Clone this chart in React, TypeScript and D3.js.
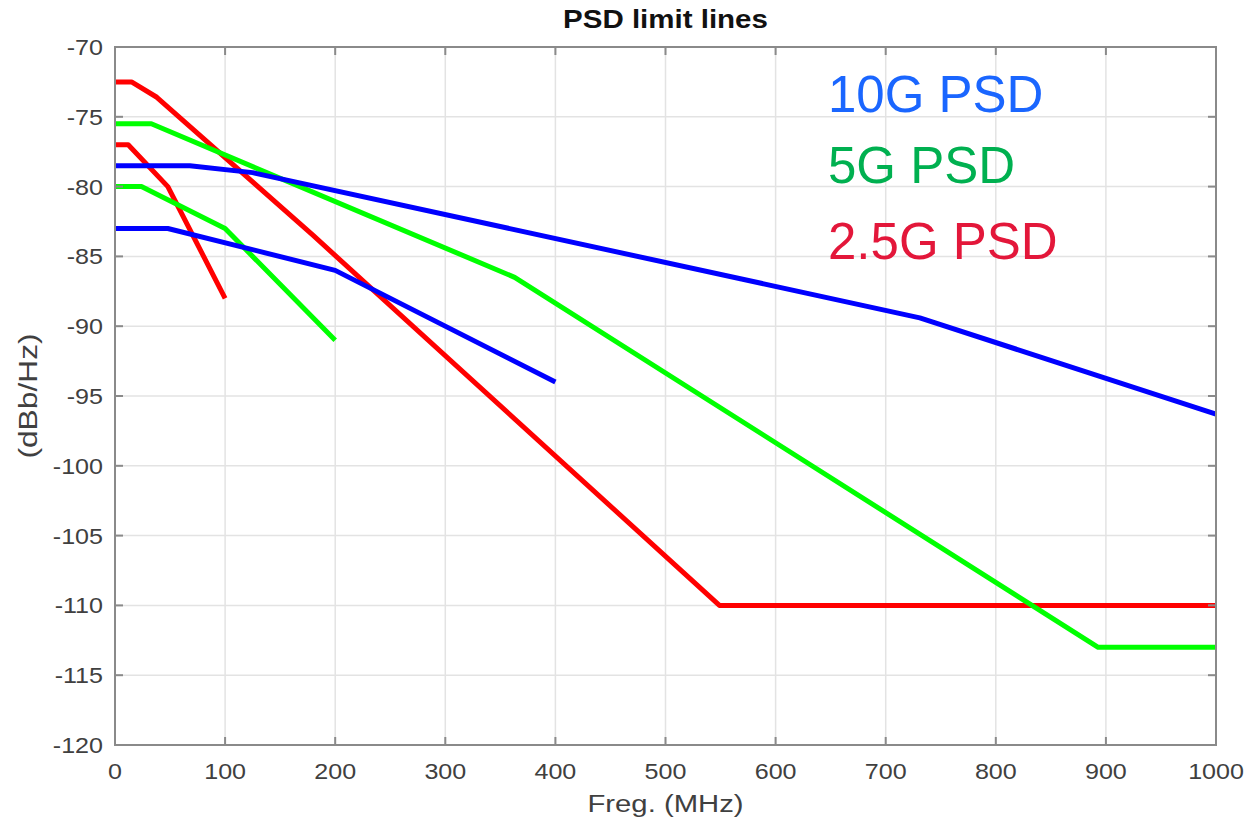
import * as d3 from "d3";
import { useEffect, useRef } from "react";

type Pt = [number, number];

// PSD limit lines, frequency in MHz vs dBm/Hz
const psd10gUpper: Pt[] = [[0, -78.5], [68, -78.5], [125, -79.0], [731, -89.4], [1000, -96.3]];
const psd10gLower: Pt[] = [[0, -83], [48, -83], [200, -86], [400, -94]];
const psd5gUpper: Pt[] = [[0, -75.5], [33, -75.5], [363, -86.5], [893, -113], [1000, -113]];
const psd5gLower: Pt[] = [[0, -80], [24, -80], [100, -83], [200, -91]];
const psd25gUpper: Pt[] = [[0, -72.5], [15, -72.5], [38, -73.6], [180, -83.5], [549, -110], [1000, -110]];
const psd25gLower: Pt[] = [[0, -77], [12, -77], [48, -80], [100, -88]];

const xTicks = [0, 100, 200, 300, 400, 500, 600, 700, 800, 900, 1000];
const yTicks = [-70, -75, -80, -85, -90, -95, -100, -105, -110, -115, -120];

const seriesList = [
  { data: psd25gUpper, color: "#ff0000" },
  { data: psd25gLower, color: "#ff0000" },
  { data: psd5gUpper, color: "#00ff00" },
  { data: psd5gLower, color: "#00ff00" },
  { data: psd10gUpper, color: "#0000ff" },
  { data: psd10gLower, color: "#0000ff" },
];

const legendLabels = ["10G PSD", "5G PSD", "2.5G PSD"];
const legendColors = ["#1a66ff", "#00b050", "#e3173a"];

const W = 1249;
const H = 824;
const margin = { left: 115, right: 33, top: 47, bottom: 79 };

export default function App() {
  const svgRef = useRef<SVGSVGElement>(null);

  useEffect(() => {
    const svg = d3.select(svgRef.current).html("");
    const font = "Liberation Sans, Arial, sans-serif";

    const x = d3.scaleLinear().domain([0, 1000]).range([margin.left, W - margin.right]);
    const y = d3.scaleLinear().domain([-120, -70]).range([H - margin.bottom, margin.top]);

    svg.append("rect").attr("width", W).attr("height", H).attr("fill", "#fff");

    // grid
    const grid = svg.append("g").attr("stroke", "#e3e3e3").attr("stroke-width", 1.5);
    xTicks.forEach(t => {
      grid.append("line").attr("x1", x(t)).attr("x2", x(t)).attr("y1", y(-70)).attr("y2", y(-120));
    });
    yTicks.forEach(t => {
      grid.append("line").attr("x1", x(0)).attr("x2", x(1000)).attr("y1", y(t)).attr("y2", y(t));
    });

    // lines
    const line = d3.line<Pt>().x(d => x(d[0])).y(d => y(d[1]));
    seriesList.forEach(s => {
      svg.append("path")
        .attr("d", line(s.data))
        .attr("fill", "none")
        .attr("stroke", s.color)
        .attr("stroke-width", 5)
        .attr("stroke-linejoin", "round");
    });

    // axes box with inward ticks
    const axisColor = "#8a8a8a";
    const tickLen = 8;
    const box = svg.append("g").attr("stroke", axisColor).attr("stroke-width", 2);
    box.append("rect")
      .attr("x", x(0)).attr("y", y(-70))
      .attr("width", x(1000) - x(0)).attr("height", y(-120) - y(-70))
      .attr("fill", "none");
    xTicks.forEach(t => {
      box.append("line").attr("x1", x(t)).attr("x2", x(t)).attr("y1", y(-120)).attr("y2", y(-120) - tickLen);
      box.append("line").attr("x1", x(t)).attr("x2", x(t)).attr("y1", y(-70)).attr("y2", y(-70) + tickLen);
    });
    yTicks.forEach(t => {
      box.append("line").attr("x1", x(0)).attr("x2", x(0) + tickLen).attr("y1", y(t)).attr("y2", y(t));
      box.append("line").attr("x1", x(1000)).attr("x2", x(1000) - tickLen).attr("y1", y(t)).attr("y2", y(t));
    });

    // tick labels (the source text is a bit stretched horizontally)
    svg.append("g").selectAll("text").data(xTicks).enter().append("text")
      .attr("transform", d => `translate(${x(d)},${y(-120) + 34}) scale(1.14,1)`)
      .attr("text-anchor", "middle")
      .attr("font-family", font).attr("font-size", 22).attr("fill", "#404040")
      .text(d => d);
    svg.append("g").selectAll("text").data(yTicks).enter().append("text")
      .attr("transform", d => `translate(${x(0) - 12},${y(d) + 8}) scale(1.14,1)`)
      .attr("text-anchor", "end")
      .attr("font-family", font).attr("font-size", 22).attr("fill", "#404040")
      .text(d => d);

    // axis titles
    svg.append("text")
      .attr("transform", `translate(${(x(0) + x(1000)) / 2},812) scale(1.22,1)`)
      .attr("text-anchor", "middle")
      .attr("font-family", font).attr("font-size", 24).attr("fill", "#404040")
      .text("Freg. (MHz)");
    svg.append("text")
      .attr("transform", `translate(37, ${(y(-70) + y(-120)) / 2}) rotate(-90) scale(1.27,1)`)
      .attr("text-anchor", "middle")
      .attr("font-family", font).attr("font-size", 25).attr("fill", "#404040")
      .text("(dBb/Hz)");

    // title
    svg.append("text")
      .attr("transform", `translate(${(x(0) + x(1000)) / 2},28) scale(1.18,1)`)
      .attr("text-anchor", "middle")
      .attr("font-family", font).attr("font-size", 25).attr("font-weight", "bold").attr("fill", "#111")
      .text("PSD limit lines");

    // legend as coloured text
    const legendY = [112, 183, 259];
    legendLabels.forEach((lab, i) => {
      svg.append("text")
        .attr("x", 828).attr("y", legendY[i])
        .attr("font-family", font).attr("font-size", 51).attr("fill", legendColors[i])
        .text(lab);
    });
  }, []);

  return (
    <svg ref={svgRef} width={W} height={H} style={{ position: "absolute", left: 0, top: 0 }} />
  );
}
